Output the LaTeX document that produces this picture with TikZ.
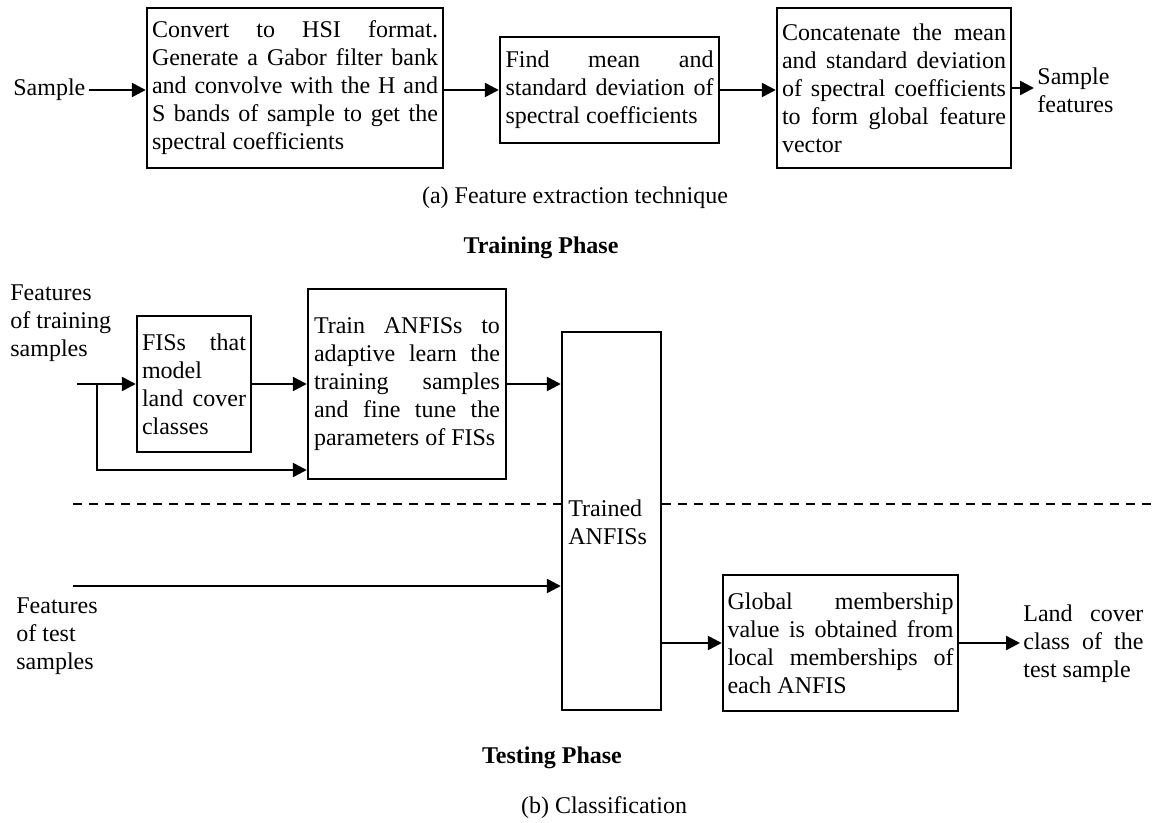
\documentclass[tikz,border=0pt]{standalone}
\usepackage{fontspec}
\setmainfont{Liberation Serif}
\usetikzlibrary{arrows.meta, positioning}

\begin{document}
\begin{tikzpicture}[x=0.5pt, y=-0.5pt, font=\fontsize{12}{14}\selectfont]
	\tikzstyle{Block} = [rectangle, draw=black, line width=1.2pt, inner sep=0pt, align=justify]
	\tikzstyle{Label} = [inner sep=1.5pt, align=left]
	\tikzstyle{Phase} = [inner sep=1.5pt, font=\fontsize{12}{14}\selectfont\bfseries]
	\tikzstyle{arrow} = [line width=1.2pt, -{Triangle[length=7pt,width=7pt]}]
	\tikzstyle{Sep} = [line width=1.1pt, dash pattern=on 4.5pt off 3.5pt]
	\useasboundingbox (0,0) rectangle (1157,823);

	% (a) feature extraction
	\node (smp) [Label, anchor=west] at (10,90) {Sample};
	\node (hsi) [Block, minimum width=148pt, minimum height=80pt, text width=143pt] at (295,88) {Convert to HSI format.\linebreak Generate a Gabor filter bank\linebreak and convolve with the H and\linebreak S bands of sample to get the\linebreak spectral coefficients};
	\node (msd) [Block, minimum width=109.5pt, minimum height=53pt, text width=104pt] at (609.5,90) {Find mean and\linebreak standard deviation of\linebreak spectral coefficients};
	\node (cat) [Block, minimum width=117pt, minimum height=80pt, text width=112pt] at (894,88) {Concatenate the mean\linebreak and standard deviation\linebreak of spectral coefficients\linebreak to form global feature\linebreak vector};
	\node (sfeat) [Label, anchor=west] at (1034,90) {Sample\\features};
	\node (capa) at (575,198) {(a) Feature extraction technique};

	\draw [arrow] (smp) -- (smp -| hsi.west);
	\draw [arrow] (hsi.east |- msd) -- (msd);
	\draw [arrow] (msd) -- (msd -| cat.west);
	\draw [arrow] (cat.east) -- (cat.east -| sfeat.west);

	% (b) classification
	\node (train) [Phase] at (541,248) {Training Phase};
	\node (ftr) [Label, anchor=west] at (7,323) {Features\\of training\\samples};
	\node (fis) [Block, minimum width=57pt, minimum height=68pt, text width=52pt] at (194,384) {FISs that\linebreak model\\land cover\linebreak classes};
	\node (anf) [Block, minimum width=99pt, minimum height=95pt, text width=93pt] at (407,384) {Train ANFISs to\linebreak adaptive learn the\linebreak training samples\linebreak and fine tune the\linebreak parameters of FISs};
	\node (tanf) [Block, minimum width=49.5pt, minimum height=189pt] at (611.5,521) {};
	\node (tlab) [Label, anchor=west] at (565,522) {Trained\\ANFISs};
	\node (gm) [Block, minimum width=117.5pt, minimum height=68pt, text width=113pt] at (840.5,643) {Global membership\linebreak value is obtained from\linebreak local memberships of\linebreak each ANFIS};
	\node (lc) [Label, anchor=west, text width=60pt, align=justify] at (1020,644) {Land cover\linebreak class of the\linebreak test sample};
	\node (fts) [Label, anchor=west] at (13,636) {Features\\of test\\samples};
	\node (test) [Phase] at (552,758) {Testing Phase};
	\node (capb) at (604,808) {(b) Classification};

	\coordinate (in) at (77,384);
	\coordinate (br) at (97,384);
	\coordinate (lo) at (97,470);
	\coordinate (tin) at (73,586);
	\coordinate (dl) at (73,504);
	\coordinate (dr) at (1157,504);

	\draw [arrow] (in) -- (fis);
	\draw [arrow] (br) -- (lo) -- (lo -| anf.west);
	\draw [arrow] (fis) -- (anf);
	\draw [arrow] (anf.east) -- (anf.east -| tanf.west);
	\draw [arrow] (tin) -- (tin -| tanf.west);
	\draw [arrow] (gm.west -| tanf.east) -- (gm.west);
	\draw [arrow] (gm.east) -- (gm.east -| lc.west);
	\draw [Sep] (dl) -- (dl -| tanf.west);
	\draw [Sep] (dr -| tanf.east) -- (dr);
\end{tikzpicture}
\end{document}
